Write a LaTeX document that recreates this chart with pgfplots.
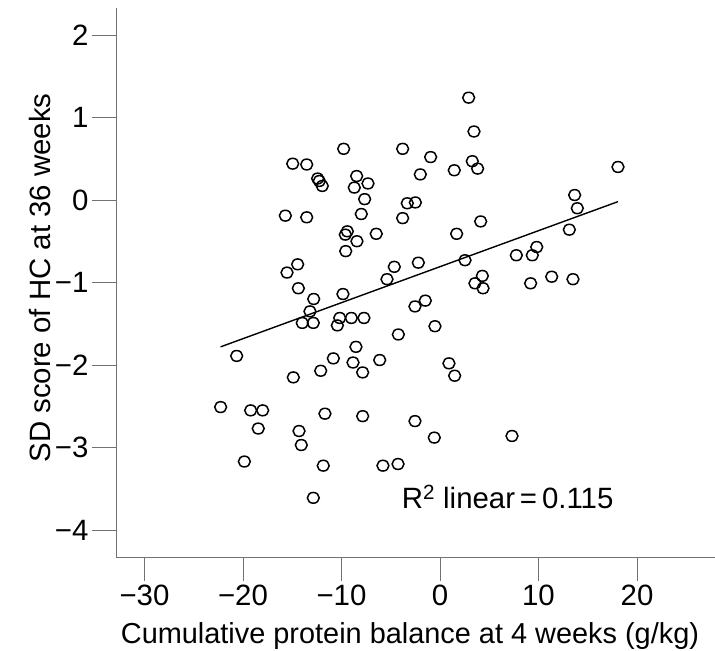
\documentclass[border=0pt]{standalone}
\usepackage{fontspec}
\setmainfont{Liberation Sans}
\usepackage{pgfplots}
\pgfplotsset{compat=1.18}
\definecolor{axisgray}{gray}{0.45}
\newcommand{\bigfont}{\fontsize{29.5}{35}\selectfont}

\begin{document}
\begin{tikzpicture}[x=1bp,y=1bp]
\useasboundingbox (0,0) rectangle (715,651);
\begin{axis}[
  at={(116bp,94bp)}, anchor=south west,
  scale only axis, width=599bp, height=549bp,
  xmin=-32.89, xmax=27.92, ymin=-4.327, ymax=2.327,
  axis x line*=bottom, axis y line*=left,
  axis line style={draw=axisgray, line width=0.9bp, -},
  tick style={draw=axisgray, line width=0.9bp},
  tick align=outside, major tick length=24bp,
  xtick={-30,-20,-10,0,10,20},
  xticklabels={−30,−20,−10,0,10,20},
  ytick={-4,-3,-2,-1,0,1,2},
  yticklabels={−4,−3,−2,−1,0,1,2},
  ticklabel style={font=\bigfont},
  clip=false,
]
% measured points
\addplot[only marks, mark=o, mark size=5.4bp,
  mark options={black, line width=1.5bp, xscale=1.1}] table {
x y
2.91 1.24
3.45 0.83
-0.95 0.52
-2.00 0.31
1.45 0.36
3.28 0.47
3.82 0.38
18.07 0.40
-2.50 -0.03
-3.32 -0.04
13.67 0.06
13.94 -0.10
13.13 -0.36
4.13 -0.26
1.69 -0.41
-9.78 0.62
-3.79 0.62
-14.95 0.44
-13.53 0.43
-12.42 0.26
-12.25 0.23
-11.95 0.17
-8.46 0.29
-8.70 0.15
-7.31 0.20
-7.65 0.01
-7.99 -0.17
-3.79 -0.22
-15.70 -0.19
-13.53 -0.21
-9.41 -0.38
-9.61 -0.42
-6.47 -0.41
-8.43 -0.50
-9.57 -0.62
-14.45 -0.78
-15.53 -0.88
-4.64 -0.81
-5.38 -0.96
-2.20 -0.76
-14.38 -1.07
-12.82 -1.20
-9.85 -1.14
-13.20 -1.35
-13.98 -1.49
-12.86 -1.49
-10.18 -1.43
-10.42 -1.52
-9.00 -1.43
-7.72 -1.43
-4.23 -1.63
-2.54 -1.29
-8.53 -1.78
-20.64 -1.89
-10.83 -1.92
-8.83 -1.97
-6.12 -1.94
-12.11 -2.07
-7.85 -2.09
-14.89 -2.15
2.54 -0.73
7.75 -0.67
9.37 -0.67
9.82 -0.57
4.30 -0.92
3.55 -1.01
4.37 -1.07
9.20 -1.01
11.34 -0.93
13.50 -0.96
-1.49 -1.22
-0.51 -1.53
0.91 -1.98
1.49 -2.13
-22.27 -2.51
-19.22 -2.55
-18.00 -2.55
-18.45 -2.77
-14.31 -2.80
-14.08 -2.97
-11.68 -2.59
-7.85 -2.62
-2.54 -2.68
-19.86 -3.17
-11.85 -3.22
-5.79 -3.22
-4.26 -3.20
-12.86 -3.61
-0.58 -2.88
7.31 -2.86
};
% linear fit
\addplot[black, line width=1.4bp] coordinates {(-22.27,-1.78) (18.07,-0.02)};
\node[anchor=base west, inner sep=0, font=\bigfont] at (axis cs:-3.89,-3.745)
  {R\textsuperscript{2} linear\,=\,0.115};
\end{axis}
\node[anchor=base, inner sep=0, font=\fontsize{29}{35}\selectfont] at (410,7.5)
  {Cumulative protein balance at 4 weeks (g/kg)};
\node[anchor=base, inner sep=0, rotate=90, font=\bigfont] at (50,373)
  {SD score of HC at 36 weeks};
\end{tikzpicture}
\end{document}
